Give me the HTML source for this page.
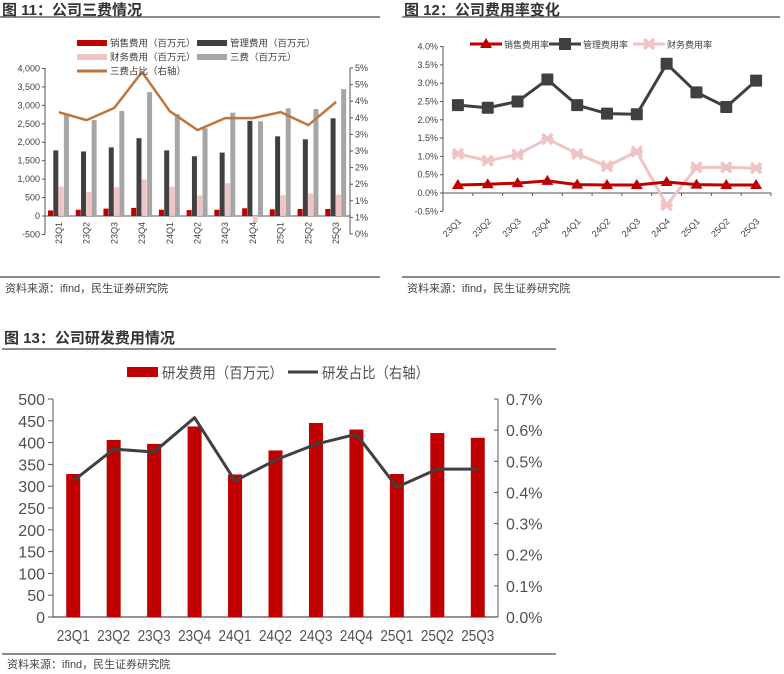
<!DOCTYPE html>
<html><head><meta charset="utf-8">
<style>
body{margin:0;background:#fff;width:784px;height:674px;overflow:hidden;font-family:"Liberation Sans","Noto Sans CJK SC",sans-serif;}
svg{position:absolute;left:0;top:0}
text{font-family:"Liberation Sans","Noto Sans CJK SC",sans-serif;}
</style></head><body>
<svg id="s" width="784" height="674"></svg>
<script>
const cats=["23Q1","23Q2","23Q3","23Q4","24Q1","24Q2","24Q3","24Q4","25Q1","25Q2","25Q3"];
// Fig 11
const sales11=[150,170,200,220,170,160,170,210,180,190,190];
const mgmt11=[1780,1750,1860,2110,1780,1620,1720,2580,2160,2080,2650];
const fin11=[800,650,780,990,800,560,890,-180,560,610,580];
const total11=[2780,2600,2850,3360,2760,2380,2800,2570,2920,2900,3440];
const ratio11=[3.67,3.43,3.80,4.88,3.70,3.13,3.49,3.49,3.67,3.28,3.98];
const leftTicks11=["-500","0","500","1,000","1,500","2,000","2,500","3,000","3,500","4,000"];
const rightTicks11=["0%","1%","1%","2%","2%","3%","3%","4%","4%","5%","5%"];
// Fig 12
const salesRate=[0.22,0.24,0.27,0.33,0.23,0.22,0.22,0.30,0.23,0.22,0.22];
const mgmtRate=[2.40,2.33,2.50,3.10,2.40,2.17,2.15,3.53,2.75,2.35,3.07];
const finRate=[1.07,0.88,1.05,1.48,1.07,0.73,1.13,-0.33,0.70,0.70,0.68];
const ticks12=["-0.5%","0.0%","0.5%","1.0%","1.5%","2.0%","2.5%","3.0%","3.5%","4.0%"];
// Fig 13
const rd=[328,406,397,437,327,382,445,430,328,422,411];
const rdRatio=[0.437,0.539,0.530,0.640,0.437,0.504,0.555,0.587,0.417,0.475,0.475];
const leftTicks13=["0","50","100","150","200","250","300","350","400","450","500"];
const rightTicks13=["0.0%","0.1%","0.2%","0.3%","0.4%","0.5%","0.6%","0.7%"];

const svg=document.getElementById('s');const NS="http://www.w3.org/2000/svg";
function el(tag,attrs,parent,txt){const e=document.createElementNS(NS,tag);for(const k in attrs)e.setAttribute(k,attrs[k]);if(txt!==undefined)e.textContent=txt;(parent||svg).appendChild(e);return e;}
function txt(x,y,s,size,opts,name){const t=el('text',Object.assign({x:x,y:y,'font-size':size,fill:'#404040'},opts||{}),svg,s);

return t;}
function line(x1,y1,x2,y2,c,w,name){const l=el('line',{x1,y1,x2,y2,stroke:c,'stroke-width':w});

return l;}
function header(x,y,w,title,ruleY,footY,footRuleY){
 txt(x+2,y,title,15,{'font-weight':'bold',fill:'#333'},'figure-title');
 line(x,ruleY,x+w,ruleY,'#666',1.5,'title-rule');
 line(x,footRuleY,x+w,footRuleY,'#666',1.5,'footer-rule');
 txt(x+5,footY,'资料来源：ifind，民生证券研究院',11,{fill:'#444'},'source-note');
}
header(0,15,380,'图 11：公司三费情况',17,292,277);
header(402,15,378,'图 12：公司费用率变化',17,292,277);
header(2,343,554,'图 13：公司研发费用情况',349,668,654);

// ===== Fig 11 =====
(function(){
 const x0=45,x1=350,yL=v=>216-v/500*18.44,yR=p=>234-p/5*166;const slot=(x1-x0)/11;
 line(x0,68,x0,234,'#555',1,'y-axis-left');line(x1,68,x1,234,'#555',1,'y-axis-right');line(x0,216,x1,216,'#555',1,'x-axis');
 leftTicks11.forEach((t,i)=>{const y=yL(-500+i*500);line(x0-3,y,x0,y,'#555',1,'tick');txt(x0-5,y+3,t,9,{'text-anchor':'end'},'y-tick-label');});
 rightTicks11.forEach((t,i)=>{const y=yR(i*0.5);line(x1,y,x1+3,y,'#555',1,'tick');txt(x1+5,y+3,t,9,{},'y2-tick-label');});
 const bw=5.3;const series=[[sales11,'#c00000'],[mgmt11,'#404040'],[fin11,'#f0c4c4'],[total11,'#a6a6a6']];
 cats.forEach((c,i)=>{const gx=x0+i*slot+3;
  series.forEach((s,j)=>{const v=s[0][i];const y=Math.min(yL(v),yL(0));const h=Math.abs(yL(v)-yL(0));
   const r=el('rect',{x:gx+j*bw,y:y,width:bw-0.3,height:h,fill:s[1]});
   
   });
  const cx=x0+(i+0.5)*slot;txt(cx+3,222,c,9,{'text-anchor':'end',transform:`rotate(-90 ${cx+3} 222)`},'x-tick-label');
 });
 const pts=ratio11.map((p,i)=>`${x0+(i+0.5)*slot},${yR(p)}`).join(' ');
 const pl=el('polyline',{points:pts,fill:'none',stroke:'#c0763a','stroke-width':2.5,'stroke-linejoin':'round'});
 
 
 const leg=[[77,43,'#c00000','销售费用（百万元）','r'],[197,43,'#404040','管理费用（百万元）','r'],[77,57,'#f0c4c4','财务费用（百万元）','r'],[197,57,'#a6a6a6','三费（百万元）','r'],[77,71,'#c0763a','三费占比（右轴）','l']];
 leg.forEach(l=>{if(l[4]=='r'){const r=el('rect',{x:l[0],y:l[1]-3,width:30,height:6,fill:l[2]});}else line(l[0],l[1],l[0]+30,l[1],l[2],3,'legend-swatch');
  txt(l[0]+33,l[1]+3.5,l[3],9.5,{},'legend-entry');});
})();

// ===== Fig 12 =====
(function(){
 const x0=443,x1=771,y=p=>193-p/0.5*18.3;const slot=(x1-x0)/11;
 line(x0,46,x0,211,'#555',1,'y-axis');line(x0,193,x1,193,'#555',1,'x-axis');
 ticks12.forEach((t,i)=>{const yy=y(-0.5+i*0.5);line(x0-3,yy,x0,yy,'#555',1,'tick');txt(x0-5,yy+3,t,9,{'text-anchor':'end'},'y-tick-label');});
 cats.forEach((c,i)=>{const cx=x0+(i+0.5)*slot;line(cx+slot/2,193,cx+slot/2,196,'#555',1,'tick');
  txt(cx+4,222,c,9,{'text-anchor':'end',transform:`rotate(-45 ${cx+4} 222)`},'x-tick-label');});
 function series(data,color,marker,name){
  const pts=data.map((p,i)=>[x0+(i+0.5)*slot,y(p)]);
  const pl=el('polyline',{points:pts.map(p=>p.join(',')).join(' '),fill:'none',stroke:color,'stroke-width':3,'stroke-linejoin':'round'});
  
  
  pts.forEach(p=>{let m;
   if(marker=='tri')m=el('polygon',{points:`${p[0]},${p[1]-6} ${p[0]-6},${p[1]+4} ${p[0]+6},${p[1]+4}`,fill:color});
   else if(marker=='sq')m=el('rect',{x:p[0]-6,y:p[1]-6,width:12,height:12,fill:color,rx:1});
   else m=el('path',{d:`M${p[0]-5},${p[1]-5}L${p[0]+5},${p[1]+5}M${p[0]+5},${p[1]-5}L${p[0]-5},${p[1]+5}M${p[0]-6},${p[1]}L${p[0]+6},${p[1]}`,stroke:color,'stroke-width':3.5});
   
   });
 }
 series(mgmtRate,'#404040','sq','mgmt-rate');
 series(finRate,'#f0c4c4','x','fin-rate');
 series(salesRate,'#c00000','tri','sales-rate');
 const leg=[[470,'#c00000','销售费用率','tri'],[549,'#404040','管理费用率','sq'],[633,'#f0c4c4','财务费用率','x']];
 leg.forEach(l=>{line(l[0],44,l[0]+32,44,l[1],3,'legend-swatch');const cx=l[0]+16;let m;
  if(l[3]=='tri')m=el('polygon',{points:`${cx},38 ${cx-6},48 ${cx+6},48`,fill:l[1]});
  else if(l[3]=='sq')m=el('rect',{x:cx-6,y:38,width:12,height:12,fill:l[1]});
  else m=el('path',{d:`M${cx-5},39L${cx+5},49M${cx+5},39L${cx-5},49M${cx-6},44L${cx+6},44`,stroke:l[1],'stroke-width':3.5});
  
  
  txt(l[0]+34,48,l[2],9,{},'legend-entry');});
})();

// ===== Fig 13 =====
(function(){
 const x0=53,x1=498,yL=v=>617-v/500*218,yR=p=>617-p/0.7*218;const slot=(x1-x0)/11;
 line(x0,399,x0,617,'#555',1,'y-axis-left');line(x1,399,x1,617,'#555',1,'y-axis-right');line(x0,617,x1,617,'#555',1.2,'x-axis');
 leftTicks13.forEach((t,i)=>{const yy=yL(i*50);line(x0-5,yy,x0,yy,'#555',1,'tick');txt(x0-8,yy+6,t,16,{'text-anchor':'end',fill:'#505050'},'y-tick-label');});
 rightTicks13.forEach((t,i)=>{const yy=yR(i*0.1);line(x1-4,yy,x1,yy,'#555',1,'tick');txt(x1+8,yy+6,t,16,{fill:'#505050'},'y2-tick-label');});
 rd.forEach((v,i)=>{const cx=x0+(i+0.5)*slot;
  const r=el('rect',{x:cx-7,y:yL(v),width:14,height:yL(0)-yL(v),fill:'#c00000'});
  
  
  txt(cx-16.5,641,cats[i],16,{textLength:33,lengthAdjust:'spacingAndGlyphs',fill:'#505050'},'x-tick-label');});
 const pl=el('polyline',{points:rdRatio.map((p,i)=>`${x0+(i+0.5)*slot},${yR(p)}`).join(' '),fill:'none',stroke:'#404040','stroke-width':3,'stroke-linejoin':'round'});
 
 
 const r=el('rect',{x:127,y:367,width:31,height:10,fill:'#c00000'});
 
 
 txt(162,378,'研发费用（百万元）',15,{textLength:121,lengthAdjust:'spacingAndGlyphs',fill:'#505050'},'legend-entry');
 line(288,372,318,372,'#404040',3,'legend-swatch');
 txt(322,378,'研发占比（右轴）',15,{textLength:107,lengthAdjust:'spacingAndGlyphs',fill:'#505050'},'legend-entry');
})();
</script>
</body></html>
